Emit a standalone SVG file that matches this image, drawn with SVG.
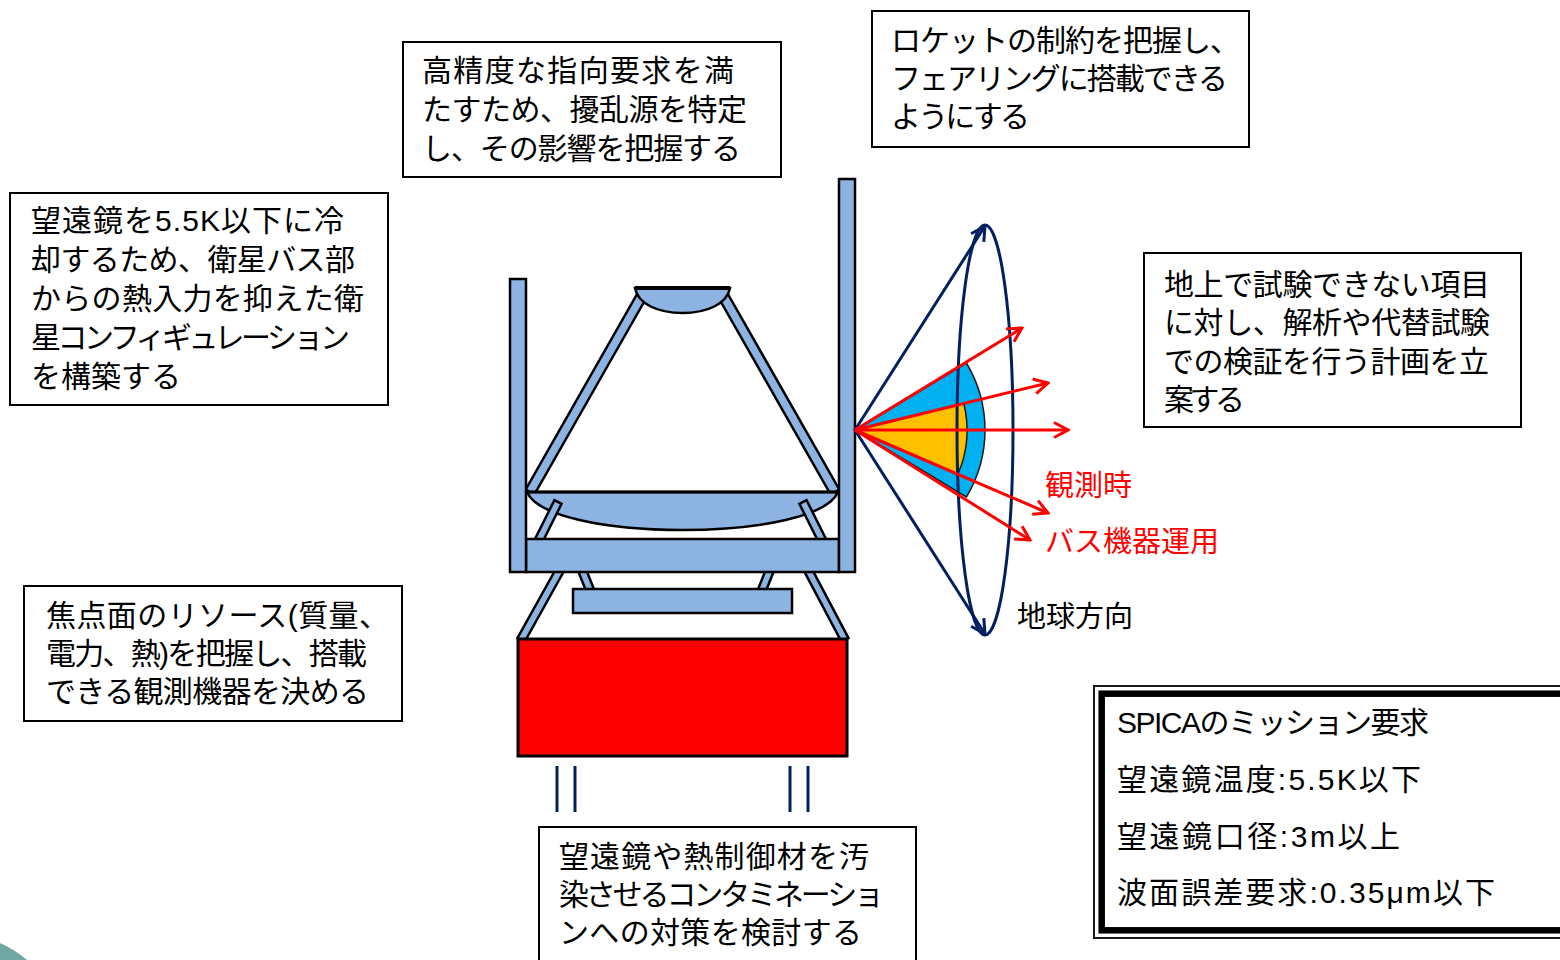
<svg xmlns="http://www.w3.org/2000/svg" width="1560" height="960" viewBox="0 0 1560 960">
  <defs>
    <style>
      .box { fill: #FFFFFF; stroke: #000000; stroke-width: 2; }
      .txt { font-family: "Liberation Sans", "Noto Sans CJK JP", sans-serif; font-size: 30px; fill: #000000; }
      .lbl { font-family: "Liberation Sans", "Noto Sans CJK JP", sans-serif; font-size: 29px; }
      .part { fill: #8DB3E2; stroke: #000000; stroke-width: 2.5; stroke-linejoin: miter; }
      .navy { fill: none; stroke: #002060; stroke-width: 3; }
      .ray { fill: none; stroke: #FF0000; stroke-width: 3; }
    </style>
    <marker id="head-red" viewBox="0 0 18 18" refX="16" refY="9" markerWidth="18" markerHeight="18" markerUnits="userSpaceOnUse" orient="auto">
      <path d="M2,1.5 L16,9 L2,16.5" fill="none" stroke="#FF0000" stroke-width="3"/>
    </marker>
    <marker id="head-navy" viewBox="0 0 18 18" refX="16" refY="9" markerWidth="18" markerHeight="18" markerUnits="userSpaceOnUse" orient="auto">
      <path d="M2,1.5 L16,9 L2,16.5" fill="none" stroke="#002060" stroke-width="3"/>
    </marker>
  </defs>

  <rect width="1560" height="960" fill="#FFFFFF"/>

  <!-- corner decoration -->
  <path d="M0,943 Q14,949 27,960 L0,960 Z" fill="#6FA7A5"/>

  <!-- telescope -->
  <g id="telescope">
    <!-- struts under the mirrors -->
    <polygon class="part" points="648.3,294.5 534.3,494.5 525.7,489.5 639.7,289.5"/>
    <polygon class="part" points="725.3,289.5 839.3,489.5 830.7,494.5 716.7,294.5"/>
    <!-- secondary mirror -->
    <path class="part" d="M635,288 H730 C727,304 707,313 682.5,313 C658,313 638,304 635,288 Z"/>
    <line x1="635" y1="288" x2="730" y2="288" stroke="#000000" stroke-width="4"/>
    <!-- primary mirror -->
    <path class="part" d="M527,492 H838 C828,516 760,530 682.5,530 C605,530 537,516 527,492 Z"/>
    <line x1="527" y1="492" x2="838" y2="492" stroke="#000000" stroke-width="3"/>
    <!-- mirror supports -->
    <polygon class="part" points="561.6,503.8 542.6,541.8 535.4,538.2 554.4,500.2"/>
    <polygon class="part" points="806.6,500.2 825.6,538.2 818.4,541.8 799.4,503.8"/>
    <!-- supports below the bench -->
    <polygon class="part" points="585.7,568.5 593.7,588.5 586.3,591.5 578.3,571.5"/>
    <polygon class="part" points="773.7,571.5 765.7,591.5 758.3,588.5 766.3,568.5"/>
    <polygon class="part" points="563.5,572.0 524.5,642.0 517.5,638.0 556.5,568.0"/>
    <polygon class="part" points="811.5,568.1 848.5,638.1 841.5,641.9 804.5,571.9"/>
    <!-- optical bench and side walls -->
    <rect class="part" x="526" y="539" width="313" height="33"/>
    <rect class="part" x="510" y="279" width="16" height="293"/>
    <rect class="part" x="839" y="179" width="16" height="393"/>
    <!-- focal plane plate -->
    <rect class="part" x="573" y="589" width="219" height="24"/>
    <!-- bus module -->
    <rect x="518" y="639" width="329" height="117" fill="#FF0000" stroke="#000000" stroke-width="3"/>
    <!-- legs -->
    <g stroke="#002060" stroke-width="3">
      <line x1="557" y1="766" x2="557" y2="812"/>
      <line x1="575" y1="766" x2="575" y2="812"/>
      <line x1="790" y1="766" x2="790" y2="812"/>
      <line x1="808" y1="766" x2="808" y2="812"/>
    </g>
  </g>

  <!-- pointing cone -->
  <g id="cone">
    <path d="M855,430 L966.4,363 A130,130 0 0 1 966.4,497 Z" fill="#00B0F0" stroke="#1A1A1A" stroke-width="1.5"/>
    <path d="M855,430 L963.8,403.5 A112,112 0 0 1 957.9,474.3 Z" fill="#FFC000" stroke="#1A1A1A" stroke-width="1.5"/>
    <ellipse class="navy" cx="985" cy="430" rx="28" ry="205"/>
  </g>

  <!-- connectors -->
  <g id="connectors">
    <line class="navy" x1="855" y1="430" x2="985" y2="226" marker-end="url(#head-navy)"/>
    <line class="navy" x1="855" y1="430" x2="985" y2="634" marker-end="url(#head-navy)"/>
    <line class="ray" x1="855" y1="430" x2="1022" y2="328" marker-end="url(#head-red)"/>
    <line class="ray" x1="855" y1="430" x2="1048" y2="383" marker-end="url(#head-red)"/>
    <line class="ray" x1="855" y1="430" x2="1068" y2="430" marker-end="url(#head-red)"/>
    <line class="ray" x1="855" y1="430" x2="1048" y2="513" marker-end="url(#head-red)"/>
    <line class="ray" x1="855" y1="430" x2="1030" y2="540" marker-end="url(#head-red)"/>
  </g>

  <!-- labels -->
  <g id="label-observation">
    <text class="lbl" x="1045" y="496" fill="#FF0000">観測時</text>
  </g>
  <g id="label-bus">
    <text class="lbl" x="1045" y="552" fill="#FF0000">バス機器運用</text>
  </g>
  <g id="label-earth">
    <text class="lbl" x="1017" y="627" fill="#000000">地球方向</text>
  </g>

  <!-- requirement boxes -->
  <g id="box-cooling">
    <rect class="box" x="10" y="193" width="378" height="212"/>
    <text class="txt">
      <tspan x="31" y="231" textLength="313">望遠鏡を5.5K以下に冷</tspan>
      <tspan x="31" y="270" textLength="324">却するため、衛星バス部</tspan>
      <tspan x="31" y="309" textLength="333">からの熱入力を抑えた衛</tspan>
      <tspan x="31" y="348" textLength="319">星コンフィギュレーション</tspan>
      <tspan x="31" y="387">を構築する</tspan>
    </text>
  </g>

  <g id="box-pointing">
    <rect class="box" x="403" y="42" width="378" height="135"/>
    <text class="txt">
      <tspan x="422" y="81" textLength="312">高精度な指向要求を満</tspan>
      <tspan x="422" y="120" textLength="325">たすため、擾乱源を特定</tspan>
      <tspan x="422" y="159" textLength="319">し、その影響を把握する</tspan>
    </text>
  </g>

  <g id="box-rocket">
    <rect class="box" x="872" y="11" width="377" height="136"/>
    <text class="txt">
      <tspan x="891" y="51" textLength="349">ロケットの制約を把握し、</tspan>
      <tspan x="891" y="89" textLength="337">フェアリングに搭載できる</tspan>
      <tspan x="891" y="127" textLength="139">ようにする</tspan>
    </text>
  </g>

  <g id="box-verification">
    <rect class="box" x="1144" y="253" width="377" height="174"/>
    <text class="txt">
      <tspan x="1164" y="295" textLength="326">地上で試験できない項目</tspan>
      <tspan x="1164" y="333" textLength="326">に対し、解析や代替試験</tspan>
      <tspan x="1164" y="372" textLength="325">での検証を行う計画を立</tspan>
      <tspan x="1164" y="410" textLength="81">案する</tspan>
    </text>
  </g>

  <g id="box-focal-plane">
    <rect class="box" x="24" y="586" width="378" height="135"/>
    <text class="txt">
      <tspan x="46" y="626" textLength="343">焦点面のリソース(質量、</tspan>
      <tspan x="46" y="664" textLength="321">電力、熱)を把握し、搭載</tspan>
      <tspan x="46" y="702" textLength="323">できる観測機器を決める</tspan>
    </text>
  </g>

  <g id="box-contamination">
    <rect class="box" x="539" y="827" width="377" height="150"/>
    <text class="txt">
      <tspan x="559" y="867" textLength="310">望遠鏡や熱制御材を汚</tspan>
      <tspan x="559" y="905" textLength="325">染させるコンタミネーショ</tspan>
      <tspan x="559" y="943" textLength="303">ンへの対策を検討する</tspan>
    </text>
  </g>

  <!-- mission requirements -->
  <g id="box-mission">
    <rect x="1094" y="686" width="520" height="252" fill="#FFFFFF" stroke="#000000" stroke-width="1.8"/>
    <rect x="1101.7" y="693.7" width="520" height="236.6" fill="none" stroke="#000000" stroke-width="6.5"/>
    <text class="txt">
      <tspan x="1117" y="733" textLength="312">SPICAのミッション要求</tspan>
      <tspan x="1117" y="790" textLength="304">望遠鏡温度:5.5K以下</tspan>
      <tspan x="1117" y="847" textLength="283">望遠鏡口径:3m以上</tspan>
      <tspan x="1117" y="903" textLength="378">波面誤差要求:0.35μm以下</tspan>
    </text>
  </g>
</svg>
